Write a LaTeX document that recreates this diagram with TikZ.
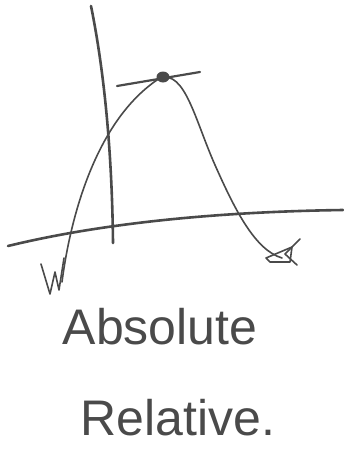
\documentclass[tikz,border=0pt]{standalone}
\usepackage{fontspec}
\setmainfont{Liberation Sans}
\definecolor{ink}{HTML}{4A4A4A}
\begin{document}
\begin{tikzpicture}[x=1pt,y=-1pt,
  axis/.style={draw=ink,line width=2.6pt,line cap=round},
  curve/.style={draw=ink,line width=1.6pt,line cap=round,line join=round},
  scribble/.style={draw=ink,line width=1.6pt,line cap=round,line join=round},
  word/.style={text=ink,font=\fontsize{50}{50}\selectfont,inner sep=0pt}]
\useasboundingbox (0,0) rectangle (343,455);
% vertical axis
\draw[axis] (91,6) .. controls (104,70) and (112,150) .. (113,243);
% horizontal axis
\draw[axis] (8,246) .. controls (90,226) and (200,212) .. (343,210);
% curve
\draw[curve] (62,282) .. controls (70,220) and (95,120) .. (160,78)
  .. controls (185,70) and (195,120) .. (215,165)
  .. controls (235,210) and (255,250) .. (282,258);
% tangent at the peak
\draw[axis,line width=2.2pt] (117,86) -- (200,72);
\fill[ink] (163,77) ellipse (6.5 and 5.5);
% W scribble at the left end
\draw[scribble] (41,264) -- (50,294) -- (55,272) -- (59,290) -- (64,258);
% star scribble at the right end
\draw[scribble] (300,239) -- (285,254) -- (297,265);
\draw[scribble] (266,258) -- (292,247) -- (290,262) -- (270,262) -- (266,258);
% words
\node[word] (abs) at (160,327) {Absolute};
\node[word] (rel) at (178,418) {Relative.};
\end{tikzpicture}
\end{document}
